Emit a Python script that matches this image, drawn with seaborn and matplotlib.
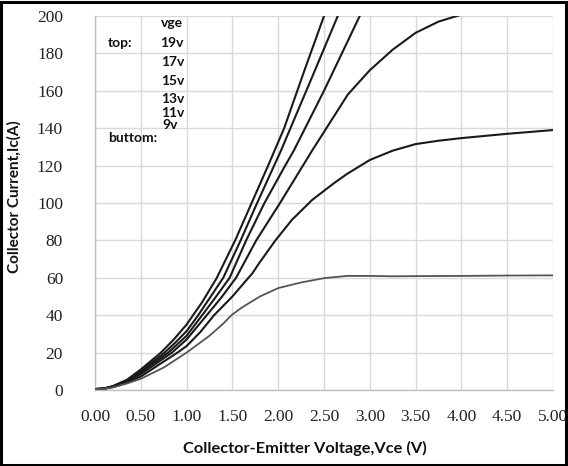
import matplotlib
matplotlib.use("Agg")
import matplotlib.pyplot as plt
import seaborn as sns
import pandas as pd
from matplotlib.patches import Rectangle

# ---------------- data ----------------
vce_19 = [0, 0.1, 0.2, 0.35, 0.5, 0.72, 0.86, 1.0, 1.17, 1.33, 1.53, 1.71, 1.89, 2.065, 2.28, 2.5, 2.6]
ic_19 = [0.5, 0.8, 2.2, 5.5, 11, 20, 27, 35, 47, 60, 80, 100, 120, 140, 170, 200, 212]

vce_17 = [0, 0.1, 0.2, 0.35, 0.5, 0.76, 0.88, 1.0, 1.12, 1.25, 1.40, 1.59, 1.77, 2.03, 2.35, 2.65, 2.75]
ic_17 = [0.5, 0.8, 2.0, 5.2, 10, 20, 25.5, 31.5, 39.5, 49, 60, 80, 100, 128, 165, 200, 212]

vce_15 = [0, 0.1, 0.2, 0.35, 0.5, 0.80, 0.9, 1.0, 1.17, 1.3, 1.47, 1.65, 1.85, 2.065, 2.17, 2.5, 2.89, 3.0]
ic_15 = [0.5, 0.8, 1.9, 5.0, 9.5, 20, 24.5, 29, 40, 48.5, 60, 80, 100, 119, 128, 160, 200, 211]

vce_13 = [0, 0.1, 0.2, 0.35, 0.5, 0.84, 1.0, 1.22, 1.38, 1.54, 1.76, 2.02, 2.37, 2.5, 2.76, 3.0, 3.25, 3.5, 3.75, 3.95, 4.1]
ic_13 = [0.5, 0.8, 1.8, 4.6, 8.5, 20, 27, 40, 49.5, 60, 80, 100, 128, 138, 158, 171, 182, 191, 197, 200, 202]

vce_11 = [0, 0.1, 0.2, 0.35, 0.5, 0.9, 1.0, 1.15, 1.30, 1.5, 1.64, 1.72, 1.79, 1.97, 2.15, 2.37, 2.5,
          2.62, 2.75, 3.0, 3.25, 3.5, 3.75, 4.0, 4.5, 5.0]
ic_11 = [0.5, 0.7, 1.6, 4.0, 7.2, 20, 23.5, 31, 40, 50, 58, 62.5, 67.7, 80, 91, 101.6, 106.5,
         111, 115.5, 123, 128, 131.5, 133.3, 134.7, 137, 139]

vce_9 = [0, 0.1, 0.2, 0.35, 0.5, 0.75, 1.0, 1.25, 1.4, 1.49, 1.6, 1.8, 2.0, 2.25, 2.5, 2.75, 3.0,
         3.25, 3.5, 4.0, 4.5, 5.0]
ic_9 = [0.5, 0.6, 1.4, 3.5, 6, 12, 20, 29, 35.5, 40, 44, 50, 54.5, 57.5, 59.8, 61, 61,
        60.8, 60.9, 61, 61.2, 61.3]

x_ticks = [0, 0.5, 1.0, 1.5, 2.0, 2.5, 3.0, 3.5, 4.0, 4.5, 5.0]
y_ticks = [0, 20, 40, 60, 80, 100, 120, 140, 160, 180, 200]
legend_labels = ["19v", "17v", "15v", "13v", "11v", "9v"]

# ---------------- figure ----------------
sns.set_theme(style="whitegrid")
plt.rcParams['font.family'] = ['Lato', 'DejaVu Sans']

W, H = 568, 466
fig = plt.figure(figsize=(W / 100, H / 100), dpi=100)
fig.patch.set_facecolor("white")
ax = fig.add_axes([95 / W, (H - 390) / H, (553 - 95) / W, (390 - 16) / H])
ax.set_facecolor("white")

series = [
    (vce_19, ic_19, "#1a1a1a", 1.5),
    (vce_17, ic_17, "#1a1a1a", 1.5),
    (vce_15, ic_15, "#1a1a1a", 1.5),
    (vce_13, ic_13, "#1a1a1a", 1.5),
    (vce_11, ic_11, "#1a1a1a", 1.5),
    (vce_9, ic_9, "#555555", 1.3),
]
for xs, ys, col, lw in series:
    df = pd.DataFrame({"Vce": xs, "Ic": ys})
    sns.lineplot(data=df, x="Vce", y="Ic", ax=ax, color=col, linewidth=lw,
                 sort=False, estimator=None, zorder=3)

ax.set_xlim(0, 5)
ax.set_ylim(0, 200)
ax.set_xticks(x_ticks)
ax.set_yticks(y_ticks)
ax.set_xticklabels([f"{v:.2f}" for v in x_ticks])
ax.set_yticklabels([str(v) for v in y_ticks])

for lab in ax.get_xticklabels() + ax.get_yticklabels():
    lab.set_family("Liberation Serif")
    lab.set_fontsize(12.5)
    lab.set_color("#222222")

ax.grid(True, color="#d9d9d9", linewidth=1.0)
for s in ["top", "right"]:
    ax.spines[s].set_visible(False)
for s in ["left", "bottom"]:
    ax.spines[s].set_visible(True)
    ax.spines[s].set_color("#bfbfbf")
    ax.spines[s].set_linewidth(1.0)
ax.tick_params(axis="both", direction="out", length=5, width=1, color="#bfbfbf")
ax.tick_params(axis="x", pad=9)
ax.tick_params(axis="y", pad=18)
ax.set_xlabel("")
ax.set_ylabel("")

def px(x, y):
    return x / W, (H - y) / H

# axis titles
fig.text(*px(305, 448), "Collector-Emitter Voltage,Vce (V)", ha="center", va="center",
         fontsize=11.8, fontweight="bold", color="#111111")
fig.text(*px(14, 197), "Collector Current,Ic(A)", ha="center", va="center", rotation=90,
         fontsize=11, fontweight="bold", color="#111111")

# annotation texts
ann_kw = dict(ha="left", va="center", fontsize=10, fontweight="bold", color="#111111")
fig.text(*px(161, 23), "vge", **ann_kw)
fig.text(*px(108, 43), "top:", **ann_kw)
label_y = [43, 62, 81, 99, 113, 125]
label_x = [160, 161, 161, 161, 161, 162]
for lx, ly, t in zip(label_x, label_y, legend_labels):
    fig.text(*px(lx, ly), t, **ann_kw)
fig.text(*px(108, 138), "buttom:", **ann_kw)

# figure border
fig.patches.append(Rectangle((0.002, 0.003), 0.995, 0.993, transform=fig.transFigure,
                             fill=False, edgecolor="black", linewidth=2.2))

fig.savefig("out.png", dpi=100)
